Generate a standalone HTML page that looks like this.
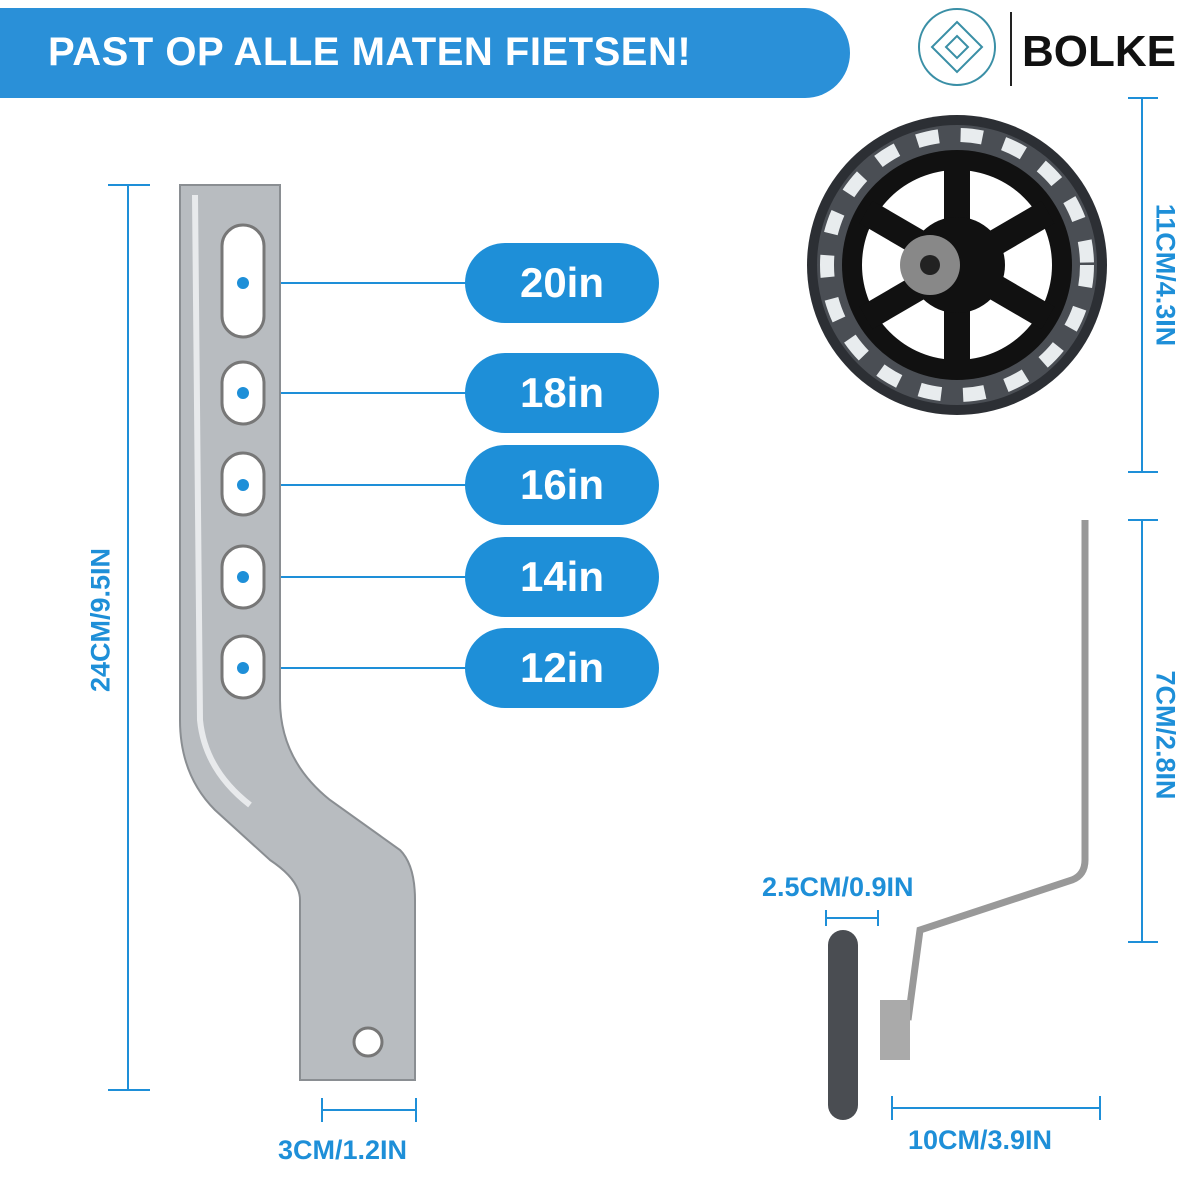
<!DOCTYPE html><html><head><style>
body{margin:0;width:1200px;height:1200px;background:#fff;overflow:hidden;position:relative;font-family:"Liberation Sans",sans-serif}
.t{position:absolute;color:#1e8fd8;font-weight:bold;font-size:27px}
.pill{position:absolute;left:465px;width:194px;height:80px;border-radius:40px;background:#1e8fd8;color:#fff;font-weight:bold;font-size:42px;text-align:center;line-height:80px}
</style></head><body>
<div style="position:absolute;left:0;top:8px;width:850px;height:90px;background:#2a90d8;border-radius:0 45px 45px 0"></div>
<div style="position:absolute;left:48px;top:30px;color:#fff;font-weight:bold;font-size:40px;letter-spacing:0.5px">PAST OP ALLE MATEN FIETSEN!</div>
<svg style="position:absolute;left:0;top:0" width="1200" height="1200">
<circle cx="957" cy="47" r="38" fill="none" stroke="#3a8fa6" stroke-width="2"/>
<path d="M957 22 L982 47 L957 72 L932 47Z M957 36 L968 47 L957 58 L946 47Z" fill="none" stroke="#3a8fa6" stroke-width="2"/>
<line x1="1011" y1="12" x2="1011" y2="86" stroke="#222" stroke-width="2"/>
<text x="1022" y="66" font-family="Liberation Sans" font-weight="bold" font-size="44" fill="#111">BOLKE</text>
<g stroke="#1e8fd8" stroke-width="2">
<line x1="128" y1="185" x2="128" y2="1090"/><line x1="108" y1="185" x2="150" y2="185"/><line x1="108" y1="1090" x2="150" y2="1090"/>
<line x1="322" y1="1110" x2="416" y2="1110"/><line x1="322" y1="1098" x2="322" y2="1122"/><line x1="416" y1="1098" x2="416" y2="1122"/>
<line x1="1142" y1="98" x2="1142" y2="472"/><line x1="1128" y1="98" x2="1158" y2="98"/><line x1="1128" y1="472" x2="1158" y2="472"/>
<line x1="1142" y1="520" x2="1142" y2="942"/><line x1="1128" y1="520" x2="1158" y2="520"/><line x1="1128" y1="942" x2="1158" y2="942"/>
<line x1="892" y1="1108" x2="1100" y2="1108"/><line x1="892" y1="1096" x2="892" y2="1120"/><line x1="1100" y1="1096" x2="1100" y2="1120"/>
<line x1="826" y1="918" x2="878" y2="918"/><line x1="826" y1="910" x2="826" y2="926"/><line x1="878" y1="910" x2="878" y2="926"/>
<line x1="243" y1="283" x2="470" y2="283"/><line x1="243" y1="393" x2="470" y2="393"/><line x1="243" y1="485" x2="470" y2="485"/><line x1="243" y1="577" x2="470" y2="577"/><line x1="243" y1="668" x2="470" y2="668"/>
</g>
<path d="M180 185 L280 185 L280 700 Q280 760 330 800 L400 850 Q415 865 415 900 L415 1080 L300 1080 L300 900 Q300 880 270 860 L215 810 Q180 775 180 720Z" fill="#b8bcc0" stroke="#8a8e92" stroke-width="2"/>
<path d="M195 195 L200 720 Q205 770 250 805" fill="none" stroke="#e8eaec" stroke-width="6"/>
<g fill="#fff" stroke="#777" stroke-width="3">
<rect x="222" y="225" width="42" height="112" rx="21"/><rect x="222" y="362" width="42" height="62" rx="21"/><rect x="222" y="453" width="42" height="62" rx="21"/><rect x="222" y="546" width="42" height="62" rx="21"/><rect x="222" y="636" width="42" height="62" rx="21"/>
<circle cx="368" cy="1042" r="14"/></g>
<g fill="#1e8fd8"><circle cx="243" cy="283" r="6"/><circle cx="243" cy="393" r="6"/><circle cx="243" cy="485" r="6"/><circle cx="243" cy="577" r="6"/><circle cx="243" cy="668" r="6"/></g>
<circle cx="957" cy="265" r="150" fill="#2c2f34"/>
<circle cx="957" cy="265" r="140" fill="#4a4e54"/>
<circle cx="957" cy="265" r="130" fill="none" stroke="#e8ecee" stroke-width="14" stroke-dasharray="22 22"/>
<circle cx="957" cy="265" r="115" fill="#111"/>
<circle cx="957" cy="265" r="95" fill="#fff"/>
<g stroke="#111" stroke-width="26"><line x1="957" y1="265" x2="957" y2="160"/><line x1="957" y1="265" x2="1048" y2="212"/><line x1="957" y1="265" x2="1048" y2="318"/><line x1="957" y1="265" x2="957" y2="370"/><line x1="957" y1="265" x2="866" y2="318"/><line x1="957" y1="265" x2="866" y2="212"/></g>
<circle cx="957" cy="265" r="48" fill="#111"/><circle cx="930" cy="265" r="30" fill="#888"/><circle cx="930" cy="265" r="10" fill="#222"/>
<path d="M1085 520 L1085 860 Q1085 875 1072 880 L920 930 L908 1020" fill="none" stroke="#999" stroke-width="7"/>
<rect x="828" y="930" width="30" height="190" rx="15" fill="#4a4d52"/>
<rect x="880" y="1000" width="30" height="60" fill="#aaa"/>
</svg>
<div class="pill" style="top:243px">20in</div>
<div class="pill" style="top:353px">18in</div>
<div class="pill" style="top:445px">16in</div>
<div class="pill" style="top:537px">14in</div>
<div class="pill" style="top:628px">12in</div>
<div class="t" style="left:278px;top:1135px">3CM/1.2IN</div>
<div class="t" style="left:908px;top:1125px">10CM/3.9IN</div>
<div class="t" style="left:762px;top:872px">2.5CM/0.9IN</div>
<div class="t" style="left:101px;top:620px;transform:translate(-50%,-50%) rotate(-90deg);white-space:nowrap;position:absolute">24CM/9.5IN</div>
<div class="t" style="left:1165px;top:275px;transform:translate(-50%,-50%) rotate(90deg);white-space:nowrap">11CM/4.3IN</div>
<div class="t" style="left:1165px;top:735px;transform:translate(-50%,-50%) rotate(90deg);white-space:nowrap">7CM/2.8IN</div>
</body></html>
